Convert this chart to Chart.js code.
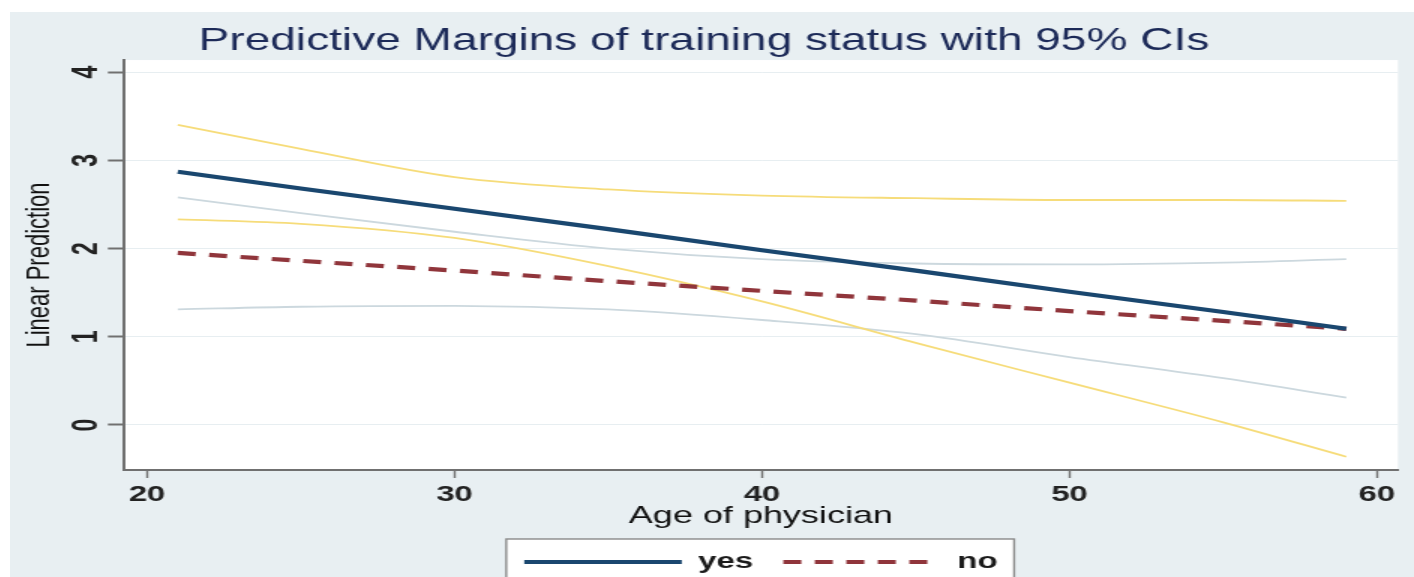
<!DOCTYPE html>
<html>
<head>
<meta charset="utf-8">
<script src="https://cdn.jsdelivr.net/npm/chart.js@4.4.1/dist/chart.umd.min.js"></script>
<style>
  html, body { margin: 0; padding: 0; background: #fff; }
  body { width: 1414px; height: 577px; overflow: hidden; position: relative; }
  /* the source picture is stretched sideways, so draw narrow and widen */
  #wrap { position: absolute; left: 10px; top: 12px; width: 936px; height: 565px; transform: scaleX(1.5); transform-origin: 0 0; }
  #chart { display: block; background: #e8eff2; }
</style>
</head>
<body>
<div id="wrap"><canvas id="chart" width="936" height="565"></canvas></div>
<script>
const ages = [21, 25, 30, 35, 40, 45, 50, 55, 59];

// training status = yes
const yesMargin = [2.87, 2.68, 2.45, 2.22, 1.98, 1.75, 1.51, 1.28, 1.09];
const yesUpper  = [3.40, 3.13, 2.81, 2.67, 2.60, 2.57, 2.55, 2.55, 2.54];
const yesLower  = [2.33, 2.28, 2.12, 1.80, 1.40, 0.93, 0.48, 0.03, -0.36];

// training status = no
const noMargin = [1.95, 1.86, 1.75, 1.63, 1.52, 1.41, 1.29, 1.18, 1.09];
const noUpper  = [2.58, 2.40, 2.19, 2.00, 1.88, 1.83, 1.82, 1.84, 1.88];
const noLower  = [1.31, 1.34, 1.35, 1.31, 1.19, 1.03, 0.77, 0.53, 0.31];

const xTicks = [20, 30, 40, 50, 60];
const yTicks = [0, 1, 2, 3, 4];

const FONT = '"Liberation Sans", Arial, Helvetica, sans-serif';
const toPoints = vals => vals.map((v, i) => ({ x: ages[i], y: v }));

// white plot region + boxed legend like Stata
const stataFrame = {
  id: 'stataFrame',
  beforeDraw(chart) {
    const { ctx, chartArea: a, legend } = chart;
    ctx.save();
    ctx.fillStyle = '#fff';
    ctx.fillRect(a.left, a.top, a.right - a.left, a.bottom - a.top);
    const hb = legend.legendHitBoxes;
    if (hb && hb.length) {
      const last = hb[hb.length - 1];
      const l = hb[0].left - 12;
      const r = last.left + last.width + 11;
      const t = legend.top + 8;
      ctx.fillRect(l, t, r - l, legend.bottom - t);
      ctx.strokeStyle = '#8a8a8a';
      ctx.lineWidth = 1.4;
      ctx.strokeRect(l, t, r - l, legend.bottom - t);
    }
    ctx.restore();
  }
};

const ctx = document.getElementById('chart').getContext('2d');
new Chart(ctx, {
  type: 'line',
  data: {
    datasets: [
      { label: 'yes', data: toPoints(yesMargin), borderColor: '#1a476f', borderWidth: 4.2 },
      { label: 'no', data: toPoints(noMargin), borderColor: '#90353b', borderWidth: 4.2, borderDash: [12, 9] },
      { label: 'yes upper', data: toPoints(yesUpper), borderColor: '#f6dc7a', borderWidth: 1.8, cubicInterpolationMode: 'monotone' },
      { label: 'yes lower', data: toPoints(yesLower), borderColor: '#f6dc7a', borderWidth: 1.8, cubicInterpolationMode: 'monotone' },
      { label: 'no upper', data: toPoints(noUpper), borderColor: '#ccd8de', borderWidth: 1.8, cubicInterpolationMode: 'monotone' },
      { label: 'no lower', data: toPoints(noLower), borderColor: '#ccd8de', borderWidth: 1.8, cubicInterpolationMode: 'monotone' }
    ]
  },
  options: {
    responsive: false,
    devicePixelRatio: 1,
    animation: false,
    layout: { padding: { left: 0, right: 10.7, top: 0, bottom: -6 } },
    elements: { point: { radius: 0 }, line: { tension: 0 } },
    plugins: {
      tooltip: { enabled: false },
      title: {
        display: true,
        text: 'Predictive Margins of training status with 95% CIs',
        color: '#1c2a58',
        font: { family: FONT, size: 30.7, weight: 'normal' },
        padding: { top: 11.2, bottom: 0 }
      },
      legend: {
        position: 'bottom',
        fullSize: false,
        labels: {
          usePointStyle: true,
          pointStyleWidth: 105,
          padding: 20,
          color: '#1a1a1a',
          font: { family: FONT, size: 22, weight: 'bold' },
          generateLabels: chart => chart.data.datasets.slice(0, 2).map((ds, i) => ({
            text: ds.label,
            datasetIndex: i,
            fillStyle: 'rgba(0,0,0,0)',
            strokeStyle: ds.borderColor,
            lineWidth: ds.borderWidth,
            lineDash: ds.borderDash || [],
            pointStyle: 'line',
            hidden: false,
            fontColor: '#1a1a1a'
          }))
        }
      }
    },
    scales: {
      x: {
        type: 'linear',
        min: 19.25,
        max: 60.68,
        afterBuildTicks: s => { s.ticks = xTicks.map(v => ({ value: v })); },
        afterFit: s => { s.height = 61; },
        grid: { drawOnChartArea: false, drawTicks: true, tickLength: 8, tickColor: '#707070', tickWidth: 1.4 },
        border: { display: true, color: '#707070', width: 2 },
        ticks: { color: '#222', font: { family: FONT, size: 22, weight: 'bold' }, padding: 4, maxRotation: 0, autoSkip: false },
        title: { display: true, text: 'Age of physician', color: '#111', font: { family: FONT, size: 24 }, padding: { top: 0, bottom: 0 } }
      },
      y: {
        type: 'linear',
        min: -0.51,
        max: 4.136,
        afterBuildTicks: s => { s.ticks = yTicks.map(v => ({ value: v })); },
        afterFit: s => { s.width = 76; },
        grid: { color: '#e7eef1', lineWidth: 1, tickLength: 10.7, tickColor: '#707070', tickWidth: 2 },
        border: { display: true, color: '#707070', width: 2 },
        ticks: { color: '#222', font: { family: FONT, size: 23, weight: 'bold' }, padding: 7, minRotation: 90, maxRotation: 90, crossAlign: 'center', autoSkip: false },
        title: { display: true, text: 'Linear Prediction', color: '#111', font: { family: FONT, size: 22 }, padding: { top: 7, bottom: 0 } }
      }
    }
  },
  plugins: [stataFrame]
});
</script>
</body>
</html>
